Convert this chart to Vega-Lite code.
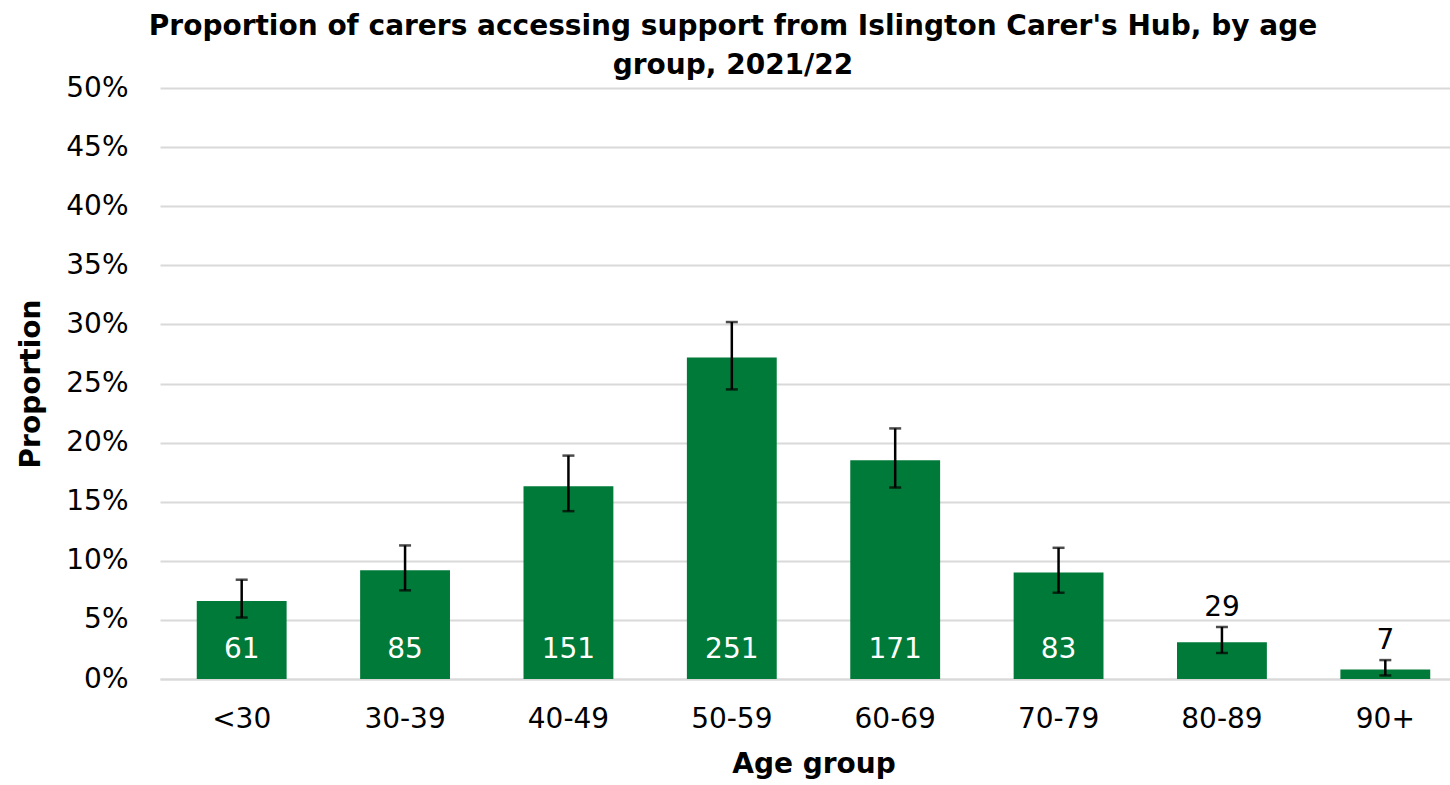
{
  "$schema": "https://vega.github.io/schema/vega-lite/v6.json",
  "autosize": {"type": "none"},
  "padding": {"left": 160, "top": 88, "right": 0, "bottom": 106},
  "width": 1307,
  "height": 591,
  "background": "white",
  "config": {"view": {"stroke": null}, "font": "DejaVu Sans"},
  "title": {
    "text": ["Proportion of carers accessing support from Islington Carer's Hub, by age", "group, 2021/22"],
    "font": "DejaVu Sans",
    "fontWeight": "bold",
    "fontSize": 28,
    "lineHeight": 39,
    "anchor": "start",
    "frame": "group",
    "align": "center",
    "dx": 573,
    "offset": -6,
    "color": "black"
  },
  "data": {
    "values": [
      {"age": "<30", "proportion": 0.066, "lower": 0.052, "upper": 0.084, "count": 61, "inside": true},
      {"age": "30-39", "proportion": 0.092, "lower": 0.075, "upper": 0.113, "count": 85, "inside": true},
      {"age": "40-49", "proportion": 0.163, "lower": 0.142, "upper": 0.189, "count": 151, "inside": true},
      {"age": "50-59", "proportion": 0.272, "lower": 0.245, "upper": 0.302, "count": 251, "inside": true},
      {"age": "60-69", "proportion": 0.185, "lower": 0.162, "upper": 0.212, "count": 171, "inside": true},
      {"age": "70-79", "proportion": 0.090, "lower": 0.073, "upper": 0.111, "count": 83, "inside": true},
      {"age": "80-89", "proportion": 0.031, "lower": 0.022, "upper": 0.044, "count": 29, "inside": false},
      {"age": "90+", "proportion": 0.008, "lower": 0.003, "upper": 0.016, "count": 7, "inside": false}
    ]
  },
  "encoding": {
    "x": {
      "field": "age",
      "type": "nominal",
      "sort": null,
      "scale": {"paddingInner": 0.45, "paddingOuter": 0.225},
      "axis": {
        "title": "Age group",
        "titleFont": "DejaVu Sans",
        "titleFontSize": 28,
        "titleFontWeight": "bold",
        "titleColor": "black",
        "titlePadding": 17,
        "labelAngle": 0,
        "labelFontSize": 28,
        "labelColor": "black",
        "labelPadding": 26,
        "ticks": false,
        "domainColor": "#d9d9d9",
        "domainWidth": 2
      }
    }
  },
  "layer": [
    {
      "mark": {"type": "bar", "color": "#007A38"},
      "encoding": {
        "y": {
          "field": "proportion",
          "type": "quantitative",
          "scale": {"domain": [0, 0.5]},
          "axis": {
            "title": "Proportion",
            "titleFont": "DejaVu Sans",
            "titleFontSize": 28,
            "titleFontWeight": "bold",
            "titleColor": "black",
            "titlePadding": 20,
            "format": ".0%",
            "values": [0, 0.05, 0.1, 0.15, 0.2, 0.25, 0.3, 0.35, 0.4, 0.45, 0.5],
            "labelFontSize": 28,
            "labelColor": "black",
            "labelPadding": 32,
            "ticks": false,
            "domain": false,
            "gridColor": "#d9d9d9",
            "gridWidth": 2
          }
        }
      }
    },
    {
      "mark": {"type": "rule", "color": "black", "strokeWidth": 2.5},
      "encoding": {
        "y": {"field": "lower", "type": "quantitative"},
        "y2": {"field": "upper"}
      }
    },
    {
      "mark": {"type": "tick", "color": "black", "size": 12, "thickness": 2.5, "orient": "horizontal"},
      "encoding": {"y": {"field": "lower", "type": "quantitative"}}
    },
    {
      "mark": {"type": "tick", "color": "black", "size": 12, "thickness": 2.5, "orient": "horizontal"},
      "encoding": {"y": {"field": "upper", "type": "quantitative"}}
    },
    {
      "transform": [{"filter": "datum.inside"}],
      "mark": {"type": "text", "color": "white", "fontSize": 28, "baseline": "middle", "dy": -29},
      "encoding": {
        "y": {"datum": 0, "type": "quantitative"},
        "text": {"field": "count", "type": "quantitative"}
      }
    },
    {
      "transform": [{"filter": "!datum.inside"}],
      "mark": {"type": "text", "color": "black", "fontSize": 28, "baseline": "middle", "dy": -19},
      "encoding": {
        "y": {"field": "upper", "type": "quantitative"},
        "text": {"field": "count", "type": "quantitative"}
      }
    }
  ]
}
